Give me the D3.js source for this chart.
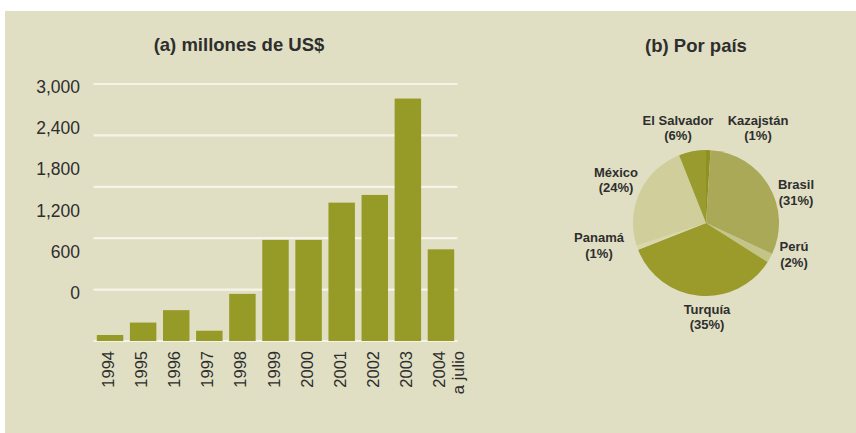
<!DOCTYPE html>
<html>
<head>
<meta charset="utf-8">
<script src="https://cdn.jsdelivr.net/npm/d3@7/dist/d3.min.js"></script>
<style>
  body { margin: 0; background: #ffffff; }
  svg text { font-family: "Liberation Sans", Arial, sans-serif; fill: #2e2e2e; }
</style>
</head>
<body>
<div id="chart"></div>
<script>
// bar data (millones de US$)
var years = ["1994", "1995", "1996", "1997", "1998", "1999", "2000", "2001", "2002", "2003", "2004"];
var amounts = [70, 215, 360, 120, 550, 1180, 1180, 1615, 1705, 2830, 1070];
var yTicks = [0, 600, 1200, 1800, 2400, 3000];

// pie data (por país), clockwise from top
var countries = ["Kazajstán", "Brasil", "Perú", "Turquía", "Panamá", "México", "El Salvador"];
var shares = [1, 31, 2, 35, 1, 24, 6];
var sliceColors = ["#8e9122", "#aaa957", "#c5c488", "#9a9b2b", "#d9d7ad", "#d0ce9b", "#999b2e"];

var W = 856, H = 433;
var svg = d3.select("#chart").append("svg")
    .attr("width", W)
    .attr("height", H);

// background panel
svg.append("rect")
    .attr("x", 5).attr("y", 11)
    .attr("width", W - 5).attr("height", H - 11)
    .attr("fill", "#e1dfc3");

// ---------- (a) bars ----------
var x = d3.scaleBand()
    .domain(years)
    .range([93.5, 457.5])
    .paddingInner(0.2)
    .paddingOuter(0.1);

var y = d3.scaleLinear()
    .domain([0, 3000])
    .range([341, 84]);

// the printed labels don't sit on the gridlines in the original
var yLab = d3.scaleLinear()
    .domain([0, 3000])
    .range([293, 87]);

svg.append("text")
    .attr("x", 239).attr("y", 44)
    .attr("text-anchor", "middle")
    .attr("dominant-baseline", "central")
    .style("font-size", "18.5px")
    .style("font-weight", "bold")
    .text("(a) millones de US$");

svg.append("g").selectAll("line")
    .data(yTicks)
    .enter().append("line")
    .attr("x1", 93.5).attr("x2", 457.5)
    .attr("y1", function(d) { return y(d); })
    .attr("y2", function(d) { return y(d); })
    .attr("stroke", "#f6f4e8")
    .attr("stroke-width", 2.2);

svg.append("g").selectAll("text")
    .data(yTicks)
    .enter().append("text")
    .attr("x", 80)
    .attr("y", function(d) { return yLab(d); })
    .attr("text-anchor", "end")
    .attr("dominant-baseline", "central")
    .style("font-size", "17.5px")
    .text(function(d) { return d3.format(",")(d); });

svg.append("g").selectAll("rect")
    .data(amounts)
    .enter().append("rect")
    .attr("x", function(d, i) { return x(years[i]); })
    .attr("y", function(d) { return y(d); })
    .attr("width", x.bandwidth())
    .attr("height", function(d) { return y(0) - y(d); })
    .attr("fill", "#969a27");

var xl = svg.append("g").selectAll("text")
    .data(years)
    .enter().append("text")
    .attr("transform", function(d) {
      return "translate(" + (x(d) + x.bandwidth() / 2 - 2) + ",351) rotate(-90)";
    })
    .attr("text-anchor", "end")
    .attr("dominant-baseline", "central")
    .style("font-size", "16.5px");
xl.append("tspan").text(function(d) { return d; });
xl.filter(function(d) { return d == "2004"; })
  .append("tspan")
    .attr("x", 0).attr("dy", 19)
    .text("a julio");

// ---------- (b) pie ----------
svg.append("text")
    .attr("x", 696).attr("y", 45)
    .attr("text-anchor", "middle")
    .attr("dominant-baseline", "central")
    .style("font-size", "18.5px")
    .style("font-weight", "bold")
    .text("(b) Por país");

var cx = 706, cy = 223, r = 73;
var pie = d3.pie().sort(null).value(function(d) { return d; });
var arc = d3.arc().innerRadius(0).outerRadius(r);

svg.append("g")
    .attr("transform", "translate(" + cx + "," + cy + ")")
    .selectAll("path")
    .data(pie(shares))
    .enter().append("path")
    .attr("d", arc)
    .attr("fill", function(d, i) { return sliceColors[i]; });

// label positions (centre of the name line)
var labelX = [758, 796, 794, 707, 599, 616, 678];
var labelY = [119.5, 184, 246, 309, 237, 172, 119.5];
var labelGap = [15, 16, 16, 15, 16, 15, 15];

var pl = svg.append("g").selectAll("text")
    .data(countries)
    .enter().append("text")
    .attr("x", function(d, i) { return labelX[i]; })
    .attr("y", function(d, i) { return labelY[i]; })
    .attr("text-anchor", "middle")
    .attr("dominant-baseline", "central")
    .style("font-size", "13px")
    .style("font-weight", "bold");
pl.append("tspan").text(function(d) { return d; });
pl.append("tspan")
    .attr("x", function(d, i) { return labelX[i]; })
    .attr("dy", function(d, i) { return labelGap[i]; })
    .text(function(d, i) { return "(" + shares[i] + "%)"; });
</script>
</body>
</html>
